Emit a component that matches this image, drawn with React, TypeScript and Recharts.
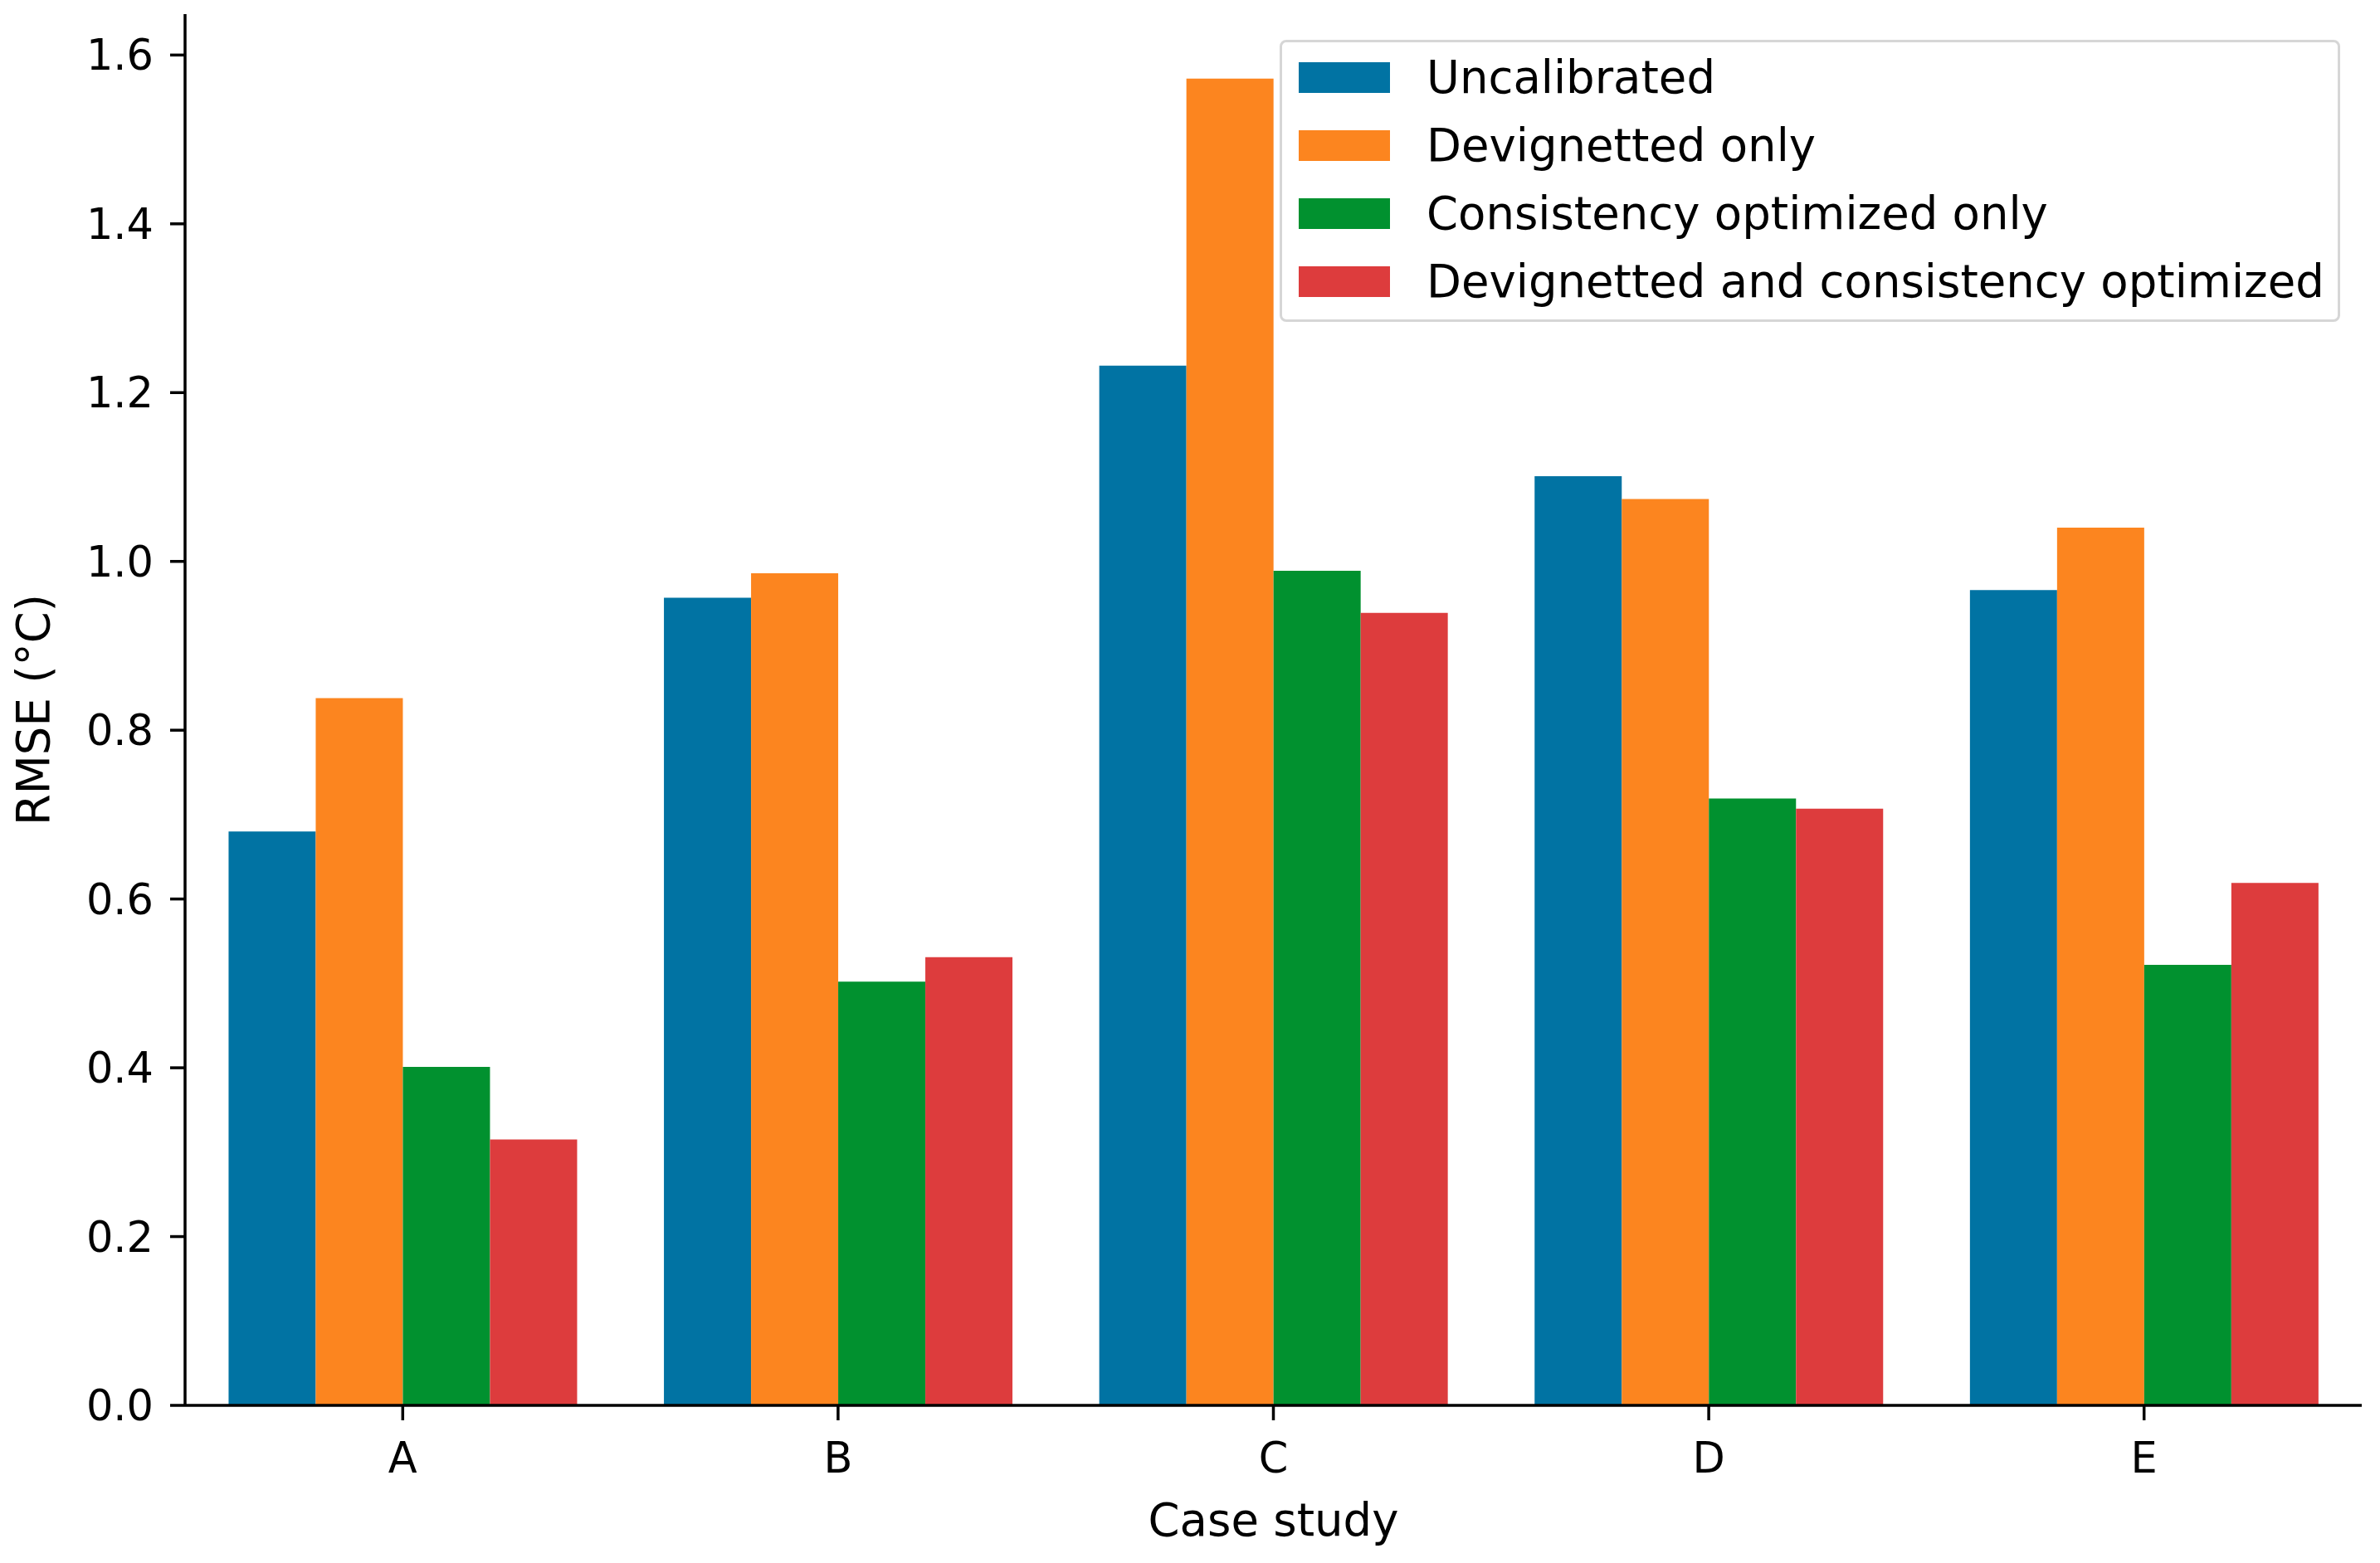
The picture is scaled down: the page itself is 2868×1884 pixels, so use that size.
import { Bar, BarChart, XAxis, YAxis } from "recharts";

const cases = ["A", "B", "C", "D", "E"];
const uncalibrated = [0.68, 0.957, 1.232, 1.101, 0.966];
const devignettedOnly = [0.838, 0.986, 1.572, 1.074, 1.04];
const consistencyOnly = [0.401, 0.502, 0.989, 0.719, 0.522];
const devignettedAndConsistency = [0.315, 0.531, 0.939, 0.707, 0.619];
const yTicks = [0, 0.2, 0.4, 0.6, 0.8, 1.0, 1.2, 1.4, 1.6];

const series = [
  { key: "uncal", name: "Uncalibrated", color: "#0173a3", values: uncalibrated },
  { key: "devig", name: "Devignetted only", color: "#fc851f", values: devignettedOnly },
  { key: "cons", name: "Consistency optimized only", color: "#01912f", values: consistencyOnly },
  {
    key: "both",
    name: "Devignetted and consistency optimized",
    color: "#dd3c3d",
    values: devignettedAndConsistency,
  },
];

const data = cases.map((c, i) => {
  const row: Record<string, string | number> = { case: c };
  series.forEach((s) => {
    row[s.key] = s.values[i];
  });
  return row;
});

const FONT = "'DejaVu Sans', sans-serif";
const FS = 51; // tick labels
const LFS = 54.5; // axis titles + legend

export default function App() {
  return (
    <div style={{ position: "relative", width: 2868, height: 1884, fontFamily: FONT }}>
      <style>{`body{margin:0}`}</style>
      <BarChart
        width={2868}
        height={1884}
        data={data}
        margin={{ top: 17, right: 22, left: 0, bottom: 0 }}
        barCategoryGap="10%"
        barGap={0}
      >
        <XAxis
          dataKey="case"
          height={190}
          stroke="#000"
          strokeWidth={3.5}
          tickSize={18}
          tickMargin={27}
          tick={{ fill: "#000", fontSize: FS, fontFamily: FONT }}
          tickLine={{ stroke: "#000", strokeWidth: 3.5 }}
          label={{
            value: "Case study",
            position: "insideBottom",
            offset: 33,
            fill: "#000",
            fontSize: LFS,
            fontFamily: FONT,
          }}
        />
        <YAxis
          width={223}
          domain={[0, 1.6485]}
          ticks={yTicks}
          tickFormatter={(v: number) => v.toFixed(1)}
          stroke="#000"
          strokeWidth={3.5}
          tickSize={18}
          tickMargin={20}
          tick={{ fill: "#000", fontSize: FS, fontFamily: FONT }}
          tickLine={{ stroke: "#000", strokeWidth: 3.5 }}
          label={{
            value: "RMSE (°C)",
            angle: -90,
            position: "insideLeft",
            offset: 40,
            fill: "#000",
            fontSize: LFS,
            fontFamily: FONT,
            style: { textAnchor: "middle" },
          }}
        />
        {series.map((s) => (
          <Bar key={s.key} dataKey={s.key} name={s.name} fill={s.color} isAnimationActive={false} />
        ))}
      </BarChart>
      <div
        style={{
          position: "absolute",
          left: 1542,
          top: 48,
          width: 1278,
          height: 340,
          boxSizing: "border-box",
          border: "3px solid #d6d6d6",
          borderRadius: 8,
          background: "rgba(255,255,255,0.8)",
          paddingTop: 1,
        }}
      >
        {series.map((s) => (
          <div
            key={s.key}
            style={{ display: "flex", alignItems: "center", height: 82, fontSize: LFS, color: "#000" }}
          >
            <div style={{ width: 110, height: 37, background: s.color, marginLeft: 20, marginRight: 44 }} />
            <span style={{ whiteSpace: "nowrap" }}>{s.name}</span>
          </div>
        ))}
      </div>
    </div>
  );
}
